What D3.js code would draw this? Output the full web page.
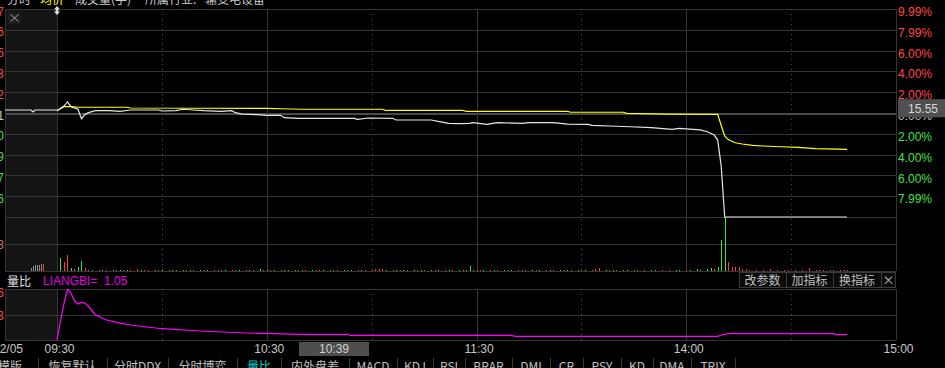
<!DOCTYPE html>
<html>
<head>
<meta charset="utf-8">
<script src="https://cdn.jsdelivr.net/npm/d3@7"></script>
<style>
  html, body { margin: 0; padding: 0; background: #000; overflow: hidden; }
  svg { display: block; }
  text { font-family: "Liberation Sans", Arial, "Noto Sans CJK SC", sans-serif; }
  .cn { font-family: "Noto Sans CJK SC", "Liberation Sans", sans-serif; }
</style>
</head>
<body>
<svg id="chart" width="945" height="368"></svg>
<script>
// ---- data ----
// minutes after 09:30 (lunch break removed, 240 = 15:00), change in %
var priceLine = [
  [0, 0.22], [2, 0.67], [3, 1.06], [4, 0.61], [6, 0.36], [7, -0.55], [8, -0.13], [9, 0.03],
  [11, 0.22], [15, 0.22], [18, 0.16], [21, 0.29], [29, 0.29], [30, 0.19], [34, 0.22], [36, 0.36],
  [39, 0.29], [42, 0.22], [47, 0.16], [50, 0.22], [51, 0.03], [53, -0.10], [57, -0.16], [60, -0.22],
  [64, -0.22], [65, -0.45], [69, -0.51], [85, -0.51], [86, -0.61], [89, -0.48], [96, -0.51],
  [97, -0.67], [107, -0.67], [109, -0.80], [112, -0.99], [115, -1.03], [118, -0.99], [119, -0.93],
  [123, -1.09], [126, -0.93], [133, -0.99], [135, -0.93], [142, -0.93], [146, -1.06], [152, -1.09],
  [153, -1.18], [158, -1.25], [164, -1.32], [170, -1.41], [176, -1.57], [178, -1.47], [184, -1.63],
  [186, -1.80], [188, -2.12], [189, -2.60], [190, -5.10], [191, -9.99], [226, -9.99]
];
var avgLine = [
  [0, 0.22], [1, 0.41], [2, 0.61], [4, 0.61], [6, 0.55], [20, 0.55], [21, 0.48], [60, 0.45],
  [64, 0.41], [70, 0.36], [93, 0.36], [94, 0.26], [116, 0.26], [117, 0.16], [146, 0.16],
  [147, 0.07], [162, 0.07], [163, -0.03], [175, -0.10], [189, -0.13], [190, -1.20], [191, -2.21],
  [192, -2.55], [194, -2.86], [196, -2.98], [199, -3.11], [202, -3.17], [207, -3.24], [212, -3.30],
  [217, -3.43], [226, -3.49]
];
// call auction (pre-market) slots
var auctionLine = [[0, 0.29], [13, 0.29], [14, 0.10], [15, 0.29], [26, 0.29]];
var auctionSlots = [13, 14, 15, 16, 17, 18, 19];
var auctionVol = [300, 500, 600, 650, 650, 700, 720];

// volume per minute, sign: + red (up), - green (down)
var volume = [
  0, -1290, 940, 1620, -335, 170, -405, -1010, 270, 100,
  -100, 0, 100, -100, 100, 0, -100, 100, -100, 100,
  -100, 130, 0, 200, -100, 100, 130, 0, -100, 100,
  -100, 0, 100, -100, 100, 0, -100, 100, -130, 100,
  0, -100, 100, -100, 0, 100, -100, 100, -130, 0,
  100, 100, -100, 0, 100, -100, 100, 0, -230, 100,
  -130, 100, -100, 0, 100, -100, 100, 0, -100, 100,
  -100, 100, 0, -100, 100, 100, -100, 0, 100, -100,
  100, 0, -100, 100, -100, 0, 100, -100, 100, 0,
  100, 230, 230, 230, -100, 0, 130, -100, 100, -130,
  130, 0, -100, 100, -100, 100, 0, -100, 100, -100,
  0, 100, -100, 130, 0, -100, 100, -100, -470, 100,
  130, 130, -100, 0, 100, -100, 100, 0, -100, 100,
  -100, 0, 100, -100, 100, 0, -100, 100, -100, 0,
  100, -100, 100, 0, -100, 100, -100, 100, 0, -100,
  100, -100, 0, 100, 230, 330, 0, -100, 100, -100,
  100, 0, -130, -130, 0, 100, -100, 0, 130, 0,
  -130, -130, 0, 100, 0, 130, 0, -100, -100, 0,
  100, -100, 0, -200, -130, 0, -230, -270, 200, -370,
  -3130, -6800, 870, 430, 430, 370, 230, 200, 130, 0,
  130, 0, 100, 0, 230, 0, 100, 0, 130, 130,
  0, 130, 0, 100, 0, 330, 0, 100, 130, 130,
  0, 100, 130, 0, 70, 70, 100
];
var volMidLabel = '2733';

// 量比 (LIANGBI)
var liangbi = [
  [0, 0.40], [1, 2.66], [2, 4.76], [3, 6.40], [4, 5.98], [5, 5.03], [6, 4.68], [7, 4.86],
  [8, 4.76], [9, 4.38], [11, 3.37], [14, 2.80], [17, 2.50], [21, 2.18], [30, 1.74], [41, 1.47],
  [54, 1.23], [70, 1.08], [83, 1.08], [84, 0.96], [130, 0.96], [131, 0.84], [189, 0.84],
  [190, 0.99], [192, 1.15], [222, 1.15], [223, 1.05], [226, 1.05]
];
var liangbiNow = 1.05;

var pctTicks = [9.99, 7.99, 6.00, 4.00, 2.00, 0, -2.00, -4.00, -6.00, -7.99];
var leftPriceLabels = ['17.07', '16.76', '16.45', '16.13', '15.82', '15.51', '15.20', '14.89', '14.57', '14.26'];
var timeTicks = [0, 60, 120, 180, 240];
var timeLabels = ['09:30', '10:30', '11:30', '14:00', '15:00'];
var halfHours = [30, 90, 150, 210];
var cursorMinute = 69, cursorTime = '10:39';
var cursorPct = 0.46, cursorPrice = '15.55';
var dateLabel = '12/05';
var tabs = ['模版', '恢复默认', '分时DDX', '分时博弈', '量比', '内外盘差', 'MACD', 'KDJ', 'RSI', 'BRAR', 'DMI', 'CR', 'PSY', 'KD', 'DMA', 'TRIX'];
var activeTab = '量比';
var buttons = ['改参数', '加指标', '换指标', '×'];

// ---- layout ----
var L = 5, X0 = 57, X1 = 896;
var volTop = 217, volBot = 271, lbTop = 289, lbBot = 340;
var grid = '#353535';
var red = '#ff3b3b', green = '#3be03b';

var xT = d3.scaleLinear().domain([0, 240]).range([X0, X1]);
var xPre = d3.scaleLinear().domain([0, 26]).range([L, X0]);
var yPct = d3.scaleLinear().domain([-9.99, 9.99]).range([217, 9]);
var yVol = d3.scaleLinear().domain([0, 5466]).range([volBot, volTop]);
var yLb = d3.scaleLinear().domain([0.40, 6.46]).range([lbBot, lbTop]);

var svg = d3.select('#chart');
svg.append('rect').attr('width', 945).attr('height', 368).attr('fill', '#000');

var px = function (v) { return Math.round(v) + 0.5; };

// pre-market shading
[[9, volBot], [lbTop, lbBot]].forEach(function (r) {
  svg.append('rect').attr('x', L).attr('y', r[0]).attr('width', X0 - L).attr('height', r[1] - r[0])
    .attr('fill', '#141414');
});

var gg = svg.append('g').attr('shape-rendering', 'crispEdges');
function hline(y, color, w) {
  gg.append('line').attr('x1', L).attr('x2', X1).attr('y1', px(y)).attr('y2', px(y))
    .attr('stroke', color || grid).attr('stroke-width', w || 1);
}
function vline(x, y1, y2, dash) {
  gg.append('line').attr('x1', px(x)).attr('x2', px(x)).attr('y1', y1).attr('y2', y2)
    .attr('stroke', dash ? '#4a4a4a' : grid).attr('stroke-dasharray', dash ? '1,4' : null);
}

// horizontal grid
pctTicks.concat([-9.99]).forEach(function (p) {
  if (p === 0) return;
  hline(yPct(p));
});
hline(yPct(0) - 0.5, '#4a4a4a', 2);
hline((volTop + volBot) / 2);
hline(volBot);
hline(lbTop);
hline((lbTop + lbBot) / 2);
hline(lbBot);

// vertical grid
[L, X0].concat(timeTicks.slice(1)).forEach(function (t, i) {
  var x = i === 0 ? L : xT(i === 1 ? 0 : t);
  vline(x, 9, volBot);
  vline(x, lbTop, lbBot);
});
halfHours.forEach(function (t) {
  vline(xT(t), 9, volBot, true);
  vline(xT(t), lbTop, lbBot, true);
});

// volume bars
var vb = svg.append('g').attr('shape-rendering', 'crispEdges');
auctionSlots.forEach(function (s, i) {
  var y = yVol(auctionVol[i]);
  vb.append('rect').attr('x', Math.round(xPre(s))).attr('y', y).attr('width', 1)
    .attr('height', volBot - y).attr('fill', i === auctionSlots.length - 1 ? red : '#8c8c8c');
});
volume.forEach(function (v, i) {
  if (!v) return;
  var h = Math.max(1, volBot - yVol(Math.abs(v)));
  var y = Math.max(volTop, volBot - h);
  vb.append('rect').attr('x', Math.round(xT(i))).attr('y', y).attr('width', 1)
    .attr('height', volBot - y).attr('fill', v > 0 ? red : green);
});

// price / average lines
var lnMkr = d3.line().x(function (d) { return xT(d[0]); }).y(function (d) { return yPct(d[1]); });
var preMkr = d3.line().x(function (d) { return xPre(d[0]); }).y(function (d) { return yPct(d[1]); });
svg.append('path').attr('d', preMkr(auctionLine)).attr('fill', 'none').attr('stroke', '#e6e6e6').attr('stroke-width', 1.2);
svg.append('path').attr('d', lnMkr(avgLine)).attr('fill', 'none').attr('stroke', '#ffff00').attr('stroke-width', 1.2);
svg.append('path').attr('d', lnMkr(priceLine)).attr('fill', 'none').attr('stroke', '#e6e6e6').attr('stroke-width', 1.2);

// liangbi line
var lbMkr = d3.line().x(function (d) { return xT(d[0]); }).y(function (d) { return yLb(d[1]); });
svg.append('path').attr('d', lbMkr(liangbi)).attr('fill', 'none').attr('stroke', '#ff00ff').attr('stroke-width', 1.2);

// right percent axis
var yAxis = d3.axisRight(yPct).tickValues(pctTicks).tickSize(0).tickPadding(2)
  .tickFormat(function (d) { return Math.abs(d).toFixed(2) + '%'; });
var ya = svg.append('g').attr('transform', 'translate(' + X1 + ',0)').call(yAxis);
ya.select('.domain').remove();
ya.selectAll('text').attr('dy', '0.55em').attr('font-size', 12).attr('font-family', null)
  .attr('fill', function (d) { return d > 0 ? '#ff4545' : d < 0 ? '#45e045' : '#c8c8c8'; });

// cursor price box
var cy = yPct(cursorPct);
svg.append('rect').attr('x', 898).attr('y', cy - 9).attr('width', 47).attr('height', 18).attr('fill', '#505050');
svg.append('text').attr('x', 923).attr('y', cy + 4.5).attr('text-anchor', 'middle')
  .attr('font-size', 12).attr('fill', '#d8d8d8').text(cursorPrice);

// clipped left labels
var lt = svg.append('g').attr('font-size', 12).attr('text-anchor', 'end');
pctTicks.forEach(function (p, i) {
  lt.append('text').attr('x', 4).attr('y', yPct(p) + 6.5)
    .attr('fill', p > 0 ? '#ff4545' : p < 0 ? '#45e045' : '#c8c8c8').text(leftPriceLabels[i]);
});
lt.append('text').attr('x', 4).attr('y', (volTop + volBot) / 2 + 5).attr('fill', '#d07070')
  .text(volMidLabel);
[yLb.domain()[1], (yLb.domain()[0] + yLb.domain()[1]) / 2].forEach(function (v, i) {
  lt.append('text').attr('x', 4).attr('y', (i === 0 ? lbTop + 2 : (lbTop + lbBot) / 2) + 5.5)
    .attr('fill', '#ff4545').text(v.toFixed(2));
});

// time axis
var xAxis = d3.axisBottom(xT).tickValues(timeTicks).tickSize(0)
  .tickFormat(function (d, i) { return timeLabels[i]; });
var xa = svg.append('g').attr('transform', 'translate(0,' + lbBot + ')').call(xAxis);
xa.select('.domain').remove();
xa.selectAll('text').attr('y', 13).attr('dy', 0).attr('dx', 2).attr('font-size', 12)
  .attr('font-family', null).attr('fill', '#c8c8c8');
svg.append('text').attr('x', 23).attr('y', 353).attr('text-anchor', 'end').attr('font-size', 12)
  .attr('fill', '#c8c8c8').text(dateLabel);
var cx = Math.round(xT(cursorMinute)) + 1;
svg.append('rect').attr('x', cx).attr('y', 342).attr('width', 70).attr('height', 14).attr('fill', '#4e4e4e');
svg.append('text').attr('x', cx + 35).attr('y', 353).attr('text-anchor', 'middle').attr('font-size', 12)
  .attr('fill', '#d0d0d0').text(cursorTime);

// title (clipped at top)
var titleItems = [['分时', 7, '#c8c8c8'], ['均价', 40, '#ffff00'], ['成交量(手)', 75, '#c8c8c8'],
  ['所属行业:', 145, '#c8c8c8'], ['输变电设备', 205, '#c8c8c8']];
titleItems.forEach(function (d) {
  svg.append('text').attr('class', 'cn').attr('x', d[1]).attr('y', 3.5).attr('font-size', 12)
    .attr('fill', d[2]).text(d[0]);
});

// cursor marker and close box in pre-market
svg.append('path').attr('d', 'M57,6L60,9.5L58.2,9.5L58.2,11.5L60,11.5L57,15L54,11.5L55.8,11.5L55.8,9.5L54,9.5Z')
  .attr('fill', '#dcdcdc');
svg.append('rect').attr('x', 8).attr('y', 12).attr('width', 13).attr('height', 12).attr('fill', '#1d1d1d');
svg.append('path').attr('d', 'M10.5,14.5L18.5,21.5M18.5,14.5L10.5,21.5').attr('stroke', '#a0a0a0').attr('stroke-width', 1);

// liangbi header
svg.append('text').attr('class', 'cn').attr('x', 7).attr('y', 285.5).attr('font-size', 12)
  .attr('fill', '#e0e0e0').text('量比');
svg.append('text').attr('x', 43).attr('y', 285).attr('font-size', 12).attr('fill', '#e000e0')
  .attr('xml:space', 'preserve').style('white-space', 'pre').text('LIANGBI=  ' + liangbiNow.toFixed(2));

// indicator buttons
var bx = [739, 786, 833, 881, 896];
svg.append('rect').attr('x', 739.5).attr('y', 272.5).attr('width', 156).attr('height', 15)
  .attr('fill', '#0a0a0a').attr('stroke', '#3a3a3a');
buttons.forEach(function (b, i) {
  if (i > 0) svg.append('line').attr('x1', bx[i] + 0.5).attr('x2', bx[i] + 0.5).attr('y1', 273).attr('y2', 288)
    .attr('stroke', '#3a3a3a');
  svg.append('text').attr('class', 'cn').attr('x', (bx[i] + bx[i + 1]) / 2).attr('y', 284.5)
    .attr('text-anchor', 'middle').attr('font-size', 12).attr('fill', '#c0c0c0').text(b);
});

// bottom tabs (clipped)
var tabEdges = [-18, 38, 107, 168, 237, 281, 349, 397, 433, 465, 512, 550, 583, 621, 653, 691, 735];
tabs.forEach(function (t, i) {
  if (i > 0) svg.append('line').attr('x1', tabEdges[i] + 0.5).attr('x2', tabEdges[i] + 0.5)
    .attr('y1', 358).attr('y2', 368).attr('stroke', '#3a3a3a');
  svg.append('text').attr('class', 'cn').attr('x', (tabEdges[i] + tabEdges[i + 1]) / 2).attr('y', 370.5)
    .attr('text-anchor', 'middle').attr('font-size', 12)
    .attr('fill', t === activeTab ? '#00d0d0' : '#c0c0c0').text(t);
});
svg.append('line').attr('x1', 735.5).attr('x2', 735.5).attr('y1', 358).attr('y2', 368).attr('stroke', '#3a3a3a');
</script>
</body>
</html>
